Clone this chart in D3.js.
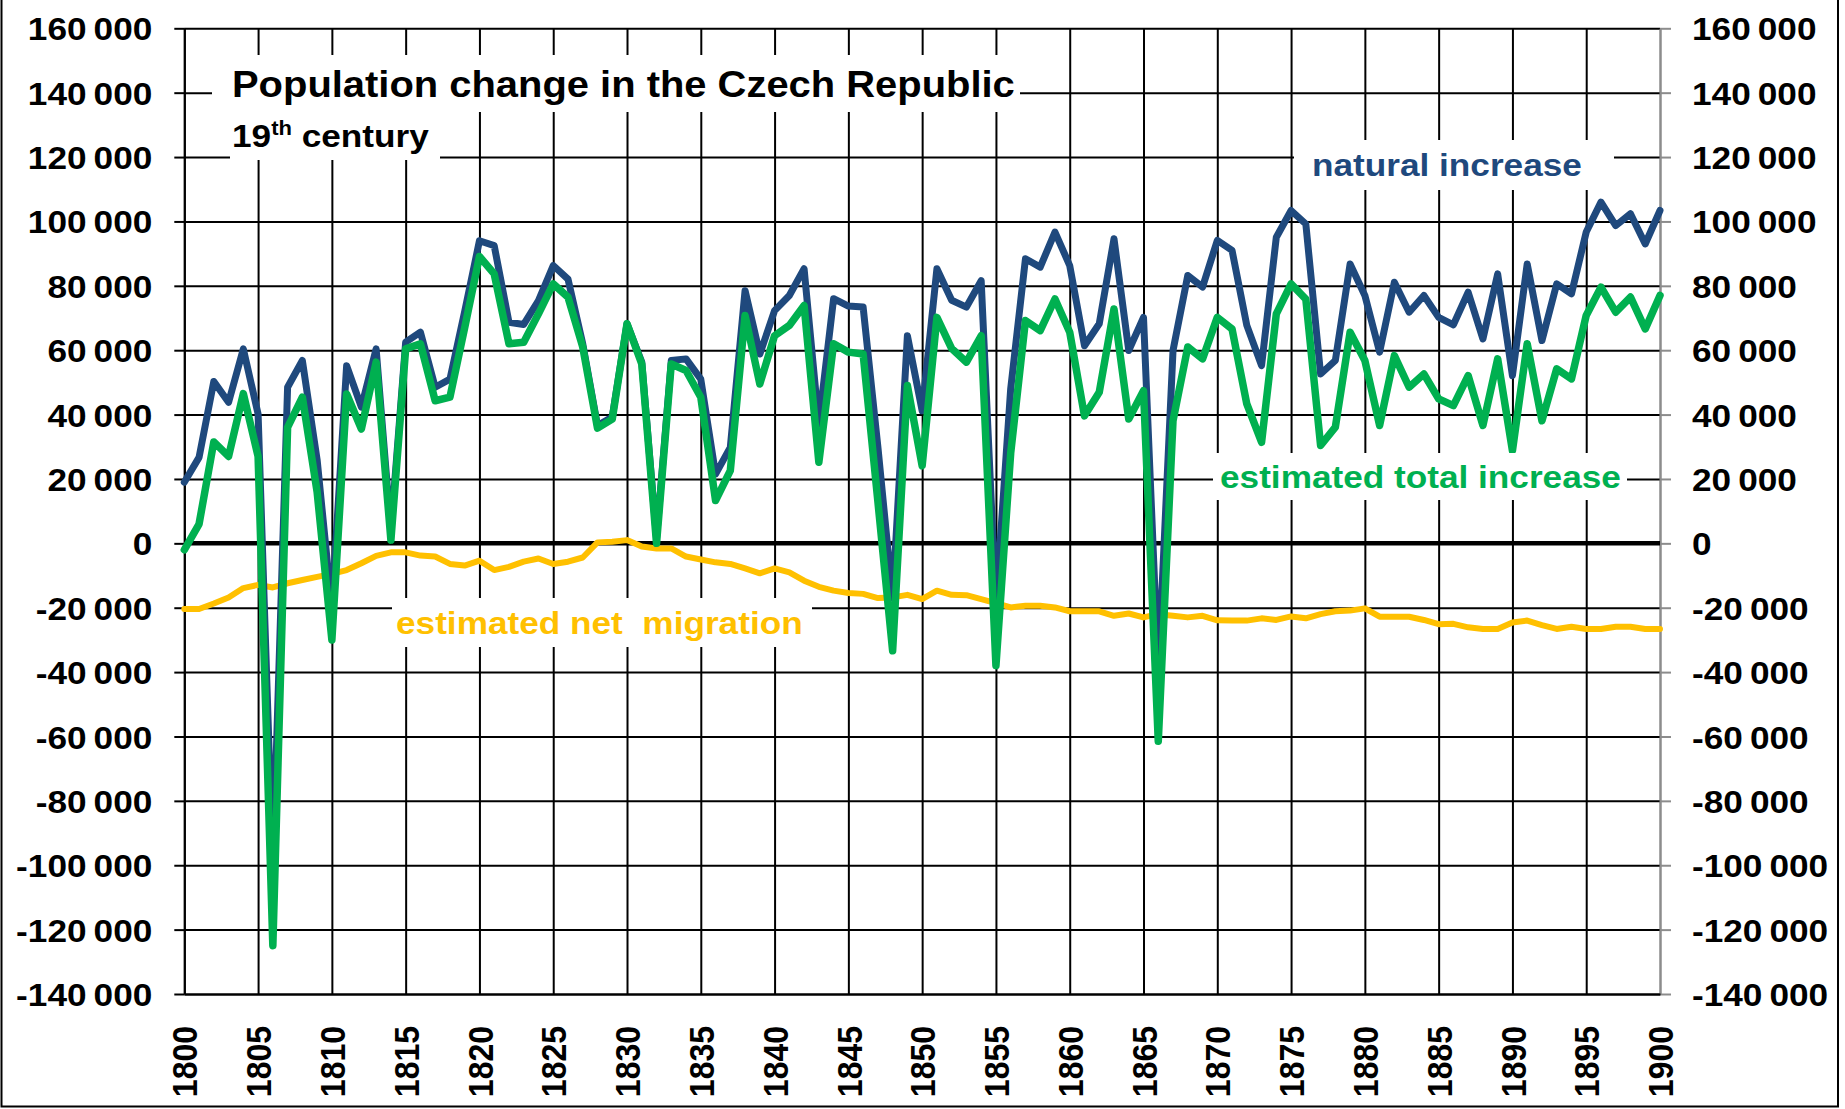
<!DOCTYPE html>
<html>
<head>
<meta charset="utf-8">
<script src="https://cdn.jsdelivr.net/npm/d3@7"></script>
<style>
  body { margin: 0; background: #fff; }
  svg { display: block; }
  text { white-space: pre; }
</style>
</head>
<body>
<svg id="chart"></svg>
<script>
// Data -----------------------------------------------------------------------

const years = d3.range(1800, 1901);

const naturalIncrease = [
  19000, 26700, 50300, 43800, 60400, 40200, -100000, 48500, 56800, 26000,
  -20000, 55200, 42300, 60400, 3900, 62500, 65600, 48500, 51000, 72000,
  94000, 92500, 68700, 68000, 75400, 86300, 82100, 62000, 36600, 39200,
  68200, 56300, 1600, 56800, 57300, 51000, 21500, 29800, 78500, 58800,
  72300, 77000, 85300, 37000, 76000, 73700, 73400, 30000, -17000, 64500,
  41200, 85300, 75500, 73400, 81600, -19000, 48000, 88400, 85800, 96700,
  86300, 61400, 68200, 94600, 59900, 70200, -39500, 59900, 83200, 79600,
  94100, 91000, 67700, 55200, 95100, 103400, 99200, 52600, 56800, 86800,
  77000, 59400, 81100, 71800, 77000, 70200, 67900, 78000, 63500, 83700,
  52100, 86800, 63000, 80600, 77500, 96700, 106000, 98700, 102400, 93000,
  103400
];

const totalIncrease = [
  -2000, 6000, 31500, 27000, 46500, 27000, -125000, 36000, 45400, 16000,
  -30000, 46400, 35500, 56300, 1000, 60400, 62000, 44300, 45400, 67000,
  89100, 83700, 62000, 62500, 71300, 80600, 76500, 61000, 35800, 38600,
  68200, 55700, 0, 55700, 53700, 45400, 13300, 22600, 70800, 49500,
  64500, 67700, 73900, 25200, 62000, 59400, 58800, 13000, -33400, 49000,
  24100, 70200, 60500, 56300, 64500, -38000, 28000, 69200, 66100, 75900,
  65600, 39600, 46900, 72800, 38600, 47400, -61500, 38100, 61000, 57300,
  70200, 66600, 43300, 31400, 71300, 80600, 75900, 30400, 36100, 65600,
  56800, 36600, 58300, 48500, 52600, 44900, 42800, 52100, 36600, 57300,
  28800, 62000, 38100, 54200, 51100, 70800, 79600, 71800, 76500, 66600,
  77000
];

const netMigration = [
  -20400, -20400, -18700, -16800, -13900, -12900, -13700, -12400, -11400, -10400,
  -9500, -8300, -6200, -3900, -2800, -2800, -3800, -4100, -6400, -6900,
  -5400, -8300, -7300, -5700, -4700, -6400, -5700, -4400, 300, 500,
  1000, -1000, -1600, -1600, -4100, -5000, -5900, -6400, -7800, -9300,
  -7800, -9000, -11600, -13500, -14700, -15400, -15700, -17000, -16800, -16000,
  -17300, -14700, -16000, -16100, -17300, -18600, -19900, -19400, -19400, -19900,
  -21100, -21100, -21100, -22500, -21800, -23000, -22000, -22500, -23000, -22500,
  -23900, -24000, -24000, -23300, -23800, -22700, -23300, -22000, -21100, -20900,
  -20200, -22800, -22800, -22800, -23800, -25100, -25000, -26100, -26600, -26600,
  -24600, -24000, -25400, -26600, -25900, -26600, -26600, -25900, -25900, -26600,
  -26600
];

const xTickYears = [1800, 1805, 1810, 1815, 1820, 1825, 1830, 1835, 1840, 1845,
  1850, 1855, 1860, 1865, 1870, 1875, 1880, 1885, 1890, 1895, 1900];

const yTickValues = [-140000, -120000, -100000, -80000, -60000, -40000, -20000,
  0, 20000, 40000, 60000, 80000, 100000, 120000, 140000, 160000];

// Layout and style ------------------------------------------------------------

const width = 1845;
const height = 1109;
const plotLeft = 184.3;
const plotRight = 1660;
const plotTop = 28.3;
const plotBottom = 994;

const FONT = '"Liberation Sans", Arial, sans-serif';
const SX = 1.1;   // the original text is a little wider than Arial Bold

const COLOR_NATURAL = '#1f497d';
const COLOR_TOTAL = '#00b050';
const COLOR_MIGRATION = '#ffc000';
const GRID_COLOR = '#000';
const RIGHT_AXIS_COLOR = '#8c8c8c';

const svg = d3.select('#chart')
    .attr('width', width)
    .attr('height', height)
    .attr('viewBox', [0, 0, width, height]);

const x = d3.scaleLinear().domain([1800, 1900]).range([plotLeft, plotRight]);
const y = d3.scaleLinear().domain([-140000, 160000]).range([plotBottom, plotTop]);

const fmt = d3.formatLocale({
    decimal: '.', thousands: '\u2009', grouping: [3], currency: ['', ''], minus: '-'
}).format(',d');

// Grid ------------------------------------------------------------------------

const vGrid = svg.append('g')
    .attr('transform', `translate(0,${plotBottom})`)
    .call(d3.axisBottom(x).tickValues(xTickYears).tickSize(-(plotBottom - plotTop)).tickFormat(''));
vGrid.select('.domain').remove();
vGrid.selectAll('line')
    .attr('stroke', d => d === 1900 ? RIGHT_AXIS_COLOR : GRID_COLOR)
    .attr('stroke-width', 2);

const hGrid = svg.append('g')
    .attr('transform', `translate(${plotLeft},0)`)
    .call(d3.axisLeft(y).tickValues(yTickValues).tickSize(-(plotRight - plotLeft)).tickFormat(''));
hGrid.select('.domain').remove();
hGrid.selectAll('line')
    .attr('stroke', GRID_COLOR)
    .attr('stroke-width', 2);

// Axes ------------------------------------------------------------------------

function styleLabels(sel) {
    sel.attr('font-family', FONT)
        .attr('font-size', 32)
        .attr('font-weight', 'bold')
        .attr('fill', '#000');
}

const leftAxis = svg.append('g')
    .attr('transform', `translate(${plotLeft},0)`)
    .call(d3.axisLeft(y).tickValues(yTickValues).tickSize(10).tickSizeOuter(0).tickFormat(fmt));
leftAxis.select('.domain').attr('stroke', '#000').attr('stroke-width', 2);
leftAxis.selectAll('line').attr('stroke', '#000').attr('stroke-width', 2);
leftAxis.selectAll('text')
    .call(styleLabels)
    .attr('x', -32 / SX)
    .attr('dy', '0.36em')
    .attr('transform', `scale(${SX},1)`);

const rightAxis = svg.append('g')
    .attr('transform', `translate(${plotRight},0)`)
    .call(d3.axisRight(y).tickValues(yTickValues).tickSize(11).tickSizeOuter(0).tickFormat(fmt));
rightAxis.select('.domain').attr('stroke', RIGHT_AXIS_COLOR).attr('stroke-width', 2);
rightAxis.selectAll('line').attr('stroke', RIGHT_AXIS_COLOR).attr('stroke-width', 2);
rightAxis.selectAll('text')
    .call(styleLabels)
    .attr('x', 32 / SX)
    .attr('dy', '0.36em')
    .attr('transform', `scale(${SX},1)`);

const bottomAxis = svg.append('g')
    .attr('transform', `translate(0,${plotBottom})`)
    .call(d3.axisBottom(x).tickValues(xTickYears).tickSize(0).tickSizeOuter(0).tickFormat(d3.format('d')));
bottomAxis.select('.domain').attr('stroke', '#000').attr('stroke-width', 2);
bottomAxis.selectAll('text')
    .call(styleLabels)
    .attr('text-anchor', 'end')
    .attr('x', -32)
    .attr('y', 0)
    .attr('dy', '0.36em')
    .attr('transform', `rotate(-90) scale(1,${SX})`);

// zero line
svg.append('line')
    .attr('x1', x(1800)).attr('x2', x(1900))
    .attr('y1', y(0)).attr('y2', y(0))
    .attr('stroke', '#000')
    .attr('stroke-width', 4.5);

// Series ----------------------------------------------------------------------

const line = d3.line()
    .x((d, i) => x(years[i]))
    .y(d => y(d));

[[netMigration, COLOR_MIGRATION, 6], [naturalIncrease, COLOR_NATURAL, 7], [totalIncrease, COLOR_TOTAL, 7.5]]
    .forEach(([values, color, w]) => {
        svg.append('path')
            .datum(values)
            .attr('fill', 'none')
            .attr('stroke', color)
            .attr('stroke-width', w)
            .attr('stroke-linejoin', 'round')
            .attr('stroke-linecap', 'round')
            .attr('d', line);
    });

// Labels (white boxes over the grid) -----------------------------------------

function box(x0, y0, x1, y1) {
    svg.append('rect')
        .attr('x', x0).attr('y', y0)
        .attr('width', x1 - x0).attr('height', y1 - y0)
        .attr('fill', '#fff');
}

function label(tx, ty, size, color) {
    return svg.append('text')
        .attr('transform', `translate(${tx},${ty}) scale(${SX},1)`)
        .attr('font-family', FONT)
        .attr('font-size', size)
        .attr('font-weight', 'bold')
        .attr('fill', color);
}

box(212, 55, 1020, 112);
box(230, 112, 440, 160);
label(232, 97, 36.3, '#000').text('Population change in the Czech Republic');
const sub = label(232, 147, 32, '#000');
sub.append('tspan').text('19');
sub.append('tspan').attr('font-size', 20).attr('dy', -12).text('th');
sub.append('tspan').attr('dy', 12).text(' century');

box(1294, 140, 1614, 190);
label(1312, 176, 32, COLOR_NATURAL).text('natural increase');

box(1213, 453, 1627, 500);
label(1220, 488, 32, COLOR_TOTAL).text('estimated total increase');

box(392, 598, 812, 647);
label(396, 634, 32, COLOR_MIGRATION).text('estimated net  migration');

// outer frame
svg.append('path')
    .attr('d', `M1.5,0 V1106.5 H1838 V0`)
    .attr('fill', 'none')
    .attr('stroke', '#000')
    .attr('stroke-width', 2);
</script>
</body>
</html>
